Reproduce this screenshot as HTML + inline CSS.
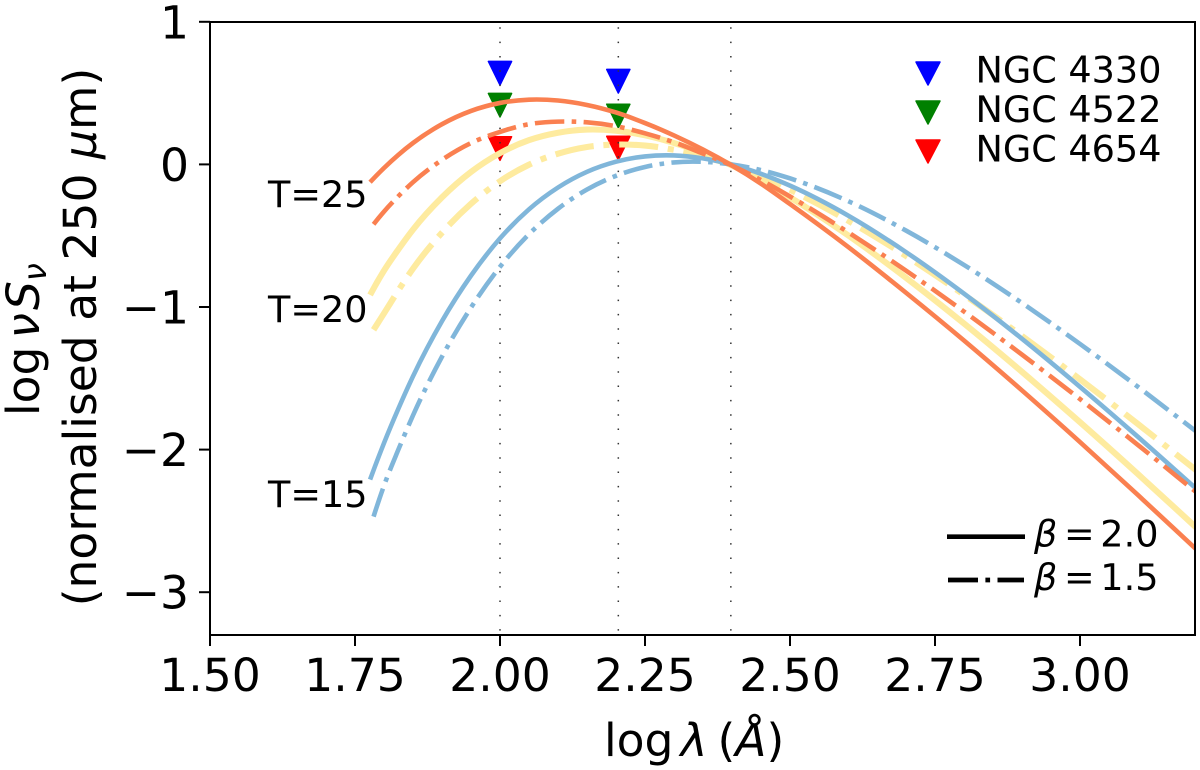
<!DOCTYPE html>
<html lang="en">
<head>
<meta charset="utf-8">
<title>Modified blackbody SEDs</title>
<style>
html,body{margin:0;padding:0;background:#fff;}
svg{display:block;}
text{font-family:"DejaVu Sans","Liberation Sans",sans-serif;fill:#000;}
.i{font-style:italic;}
</style>
</head>
<body>
<svg id="chart" xmlns="http://www.w3.org/2000/svg" width="1200" height="770" viewBox="0 0 1200 770">
  <defs><clipPath id="plot-clip"><rect x="210" y="22" width="985" height="613"/></clipPath></defs>
  <g id="markers"></g>
  <g id="vlines"></g>
  <g id="curves" clip-path="url(#plot-clip)"></g>
  <g id="axes"></g>

  <text x="268" y="207" font-size="36.6">T=25</text>
  <text x="268" y="322" font-size="36.6">T=20</text>
  <text x="268" y="507" font-size="36.6">T=15</text>

  <text x="604" y="756" font-size="45.6">log<tspan class="i" dx="7">λ</tspan><tspan dx="10">(</tspan><tspan class="i">Å</tspan>)</text>
  <text transform="translate(39,416) rotate(-90)" font-size="45.6">log<tspan class="i" dx="8">ν</tspan><tspan class="i" dx="3">S</tspan><tspan class="i" font-size="32" dy="7">ν</tspan></text>
  <text transform="translate(96,337) rotate(-90)" font-size="45.6" text-anchor="middle">(normalised at 250 <tspan class="i">μ</tspan>m)</text>

  <g>
    <polygon points="916,62 940,62 928,85" fill="#0000ff" stroke="#0000ff" stroke-width="1.5" stroke-linejoin="round"/>
    <text x="975.5" y="82.5" font-size="36.6">NGC 4330</text>
    <polygon points="916,101 940,101 928,124" fill="#008000" stroke="#008000" stroke-width="1.5" stroke-linejoin="round"/>
    <text x="975.5" y="122" font-size="36.6">NGC 4522</text>
    <polygon points="916,140 940,140 928,163" fill="#ff0000" stroke="#ff0000" stroke-width="1.5" stroke-linejoin="round"/>
    <text x="975.5" y="161.5" font-size="36.6">NGC 4654</text>
  </g>

  <g>
    <line x1="947" y1="536.7" x2="1025" y2="536.7" stroke="#000" stroke-width="4.7"/>
    <text y="546.7" font-size="36.6"><tspan class="i" x="1034">β</tspan><tspan x="1064">=</tspan><tspan x="1100.3">2.0</tspan></text>
    <line x1="948" y1="580" x2="1024" y2="580" stroke="#000" stroke-width="4.7" stroke-dasharray="30 7.4 4.7 7.4"/>
    <text y="590" font-size="36.6"><tspan class="i" x="1034">β</tspan><tspan x="1064">=</tspan><tspan x="1100.3">1.5</tspan></text>
  </g>
</svg>
<script>
// Wavelength grid (log lambda) and curve values
const logLambda = [1.80,1.825,1.85,1.90,1.95,2.00,2.05,2.10,2.15,2.20,2.25,2.30,2.35,2.40,2.45,2.50,2.60,2.70,2.80,2.90,3.00,3.10,3.20];
const startSolid = 1.776;
const startDash = 1.782;

const t25b20 = [-0.125,-0.025,0.068,0.150,0.282,0.375,0.431,0.454,0.448,0.417,0.364,0.290,0.203,0.104,-0.008,-0.135,-0.278,-0.578,-0.900,-1.235,-1.585,-1.947,-2.319,-2.698];
const t25b15 = [-0.420,-0.331,-0.222,-0.125,0.032,0.150,0.228,0.282,0.300,0.295,0.268,0.218,0.155,0.076,-0.008,-0.110,-0.225,-0.475,-0.745,-1.032,-1.334,-1.646,-1.968,-2.297];
const t20b20 = [-0.915,-0.745,-0.595,-0.457,-0.231,-0.053,0.079,0.170,0.222,0.244,0.236,0.204,0.150,0.078,-0.008,-0.114,-0.231,-0.497,-0.795,-1.116,-1.455,-1.808,-2.172,-2.545];
const t20b15 = [-1.160,-1.045,-0.882,-0.731,-0.479,-0.276,-0.118,-0.002,0.075,0.122,0.139,0.132,0.102,0.056,-0.006,-0.086,-0.178,-0.394,-0.642,-0.914,-1.203,-1.507,-1.821,-2.144];
const t15b20 = [-2.210,-1.954,-1.711,-1.486,-1.099,-0.780,-0.519,-0.315,-0.162,-0.052,0.019,0.056,0.063,0.042,-0.002,-0.066,-0.149,-0.358,-0.615,-0.906,-1.223,-1.560,-1.911,-2.273];
const t15b15 = [-2.470,-2.253,-1.998,-1.760,-1.348,-1.004,-0.718,-0.489,-0.311,-0.176,-0.080,-0.018,0.014,0.018,-0.001,-0.040,-0.098,-0.257,-0.464,-0.705,-0.972,-1.259,-1.560,-1.872];

// Upper limits per galaxy at the two observed bands
const limitBands = [2.0,2.204];
const ngc4330 = [0.640,0.584];
const ngc4522 = [0.416,0.340];
const ngc4654 = [0.112,0.115];

const refLines = [2.0,2.204,2.398];
const xTicks = [1.5,1.75,2.0,2.25,2.5,2.75,3.0];
const xTickLabels = ['1.50','1.75','2.00','2.25','2.50','2.75','3.00'];
const yTicks = [1,0,-1,-2,-3];
const yTickLabels = ['1','0','\u22121','\u22122','\u22123'];

const xMin = 1.5, xMax = 3.2;
const left = 210, right = 1196, top0 = 164.4, perUnit = 142.6;
const X = v => left + (v - xMin) * (right - left) / (xMax - xMin);
const Y = v => top0 - v * perUnit;

const NS = 'http://www.w3.org/2000/svg';
const mk = (tag, parent) => {
  const n = document.createElementNS(NS, tag);
  document.getElementById(parent).appendChild(n);
  return n;
};

function smooth(pts){
  const n = pts.length;
  const h = [], s = [], m = [];
  for (let i = 0; i < n - 1; i++) {
    h[i] = pts[i + 1][0] - pts[i][0];
    s[i] = (pts[i + 1][1] - pts[i][1]) / h[i];
  }
  m[0] = s[0] + (s[0] - s[1]) * h[0] / (h[0] + h[1]);
  m[n - 1] = s[n - 2];
  for (let i = 1; i < n - 1; i++) {
    m[i] = (h[i] * s[i - 1] + h[i - 1] * s[i]) / (h[i - 1] + h[i]);
  }
  let d = 'M' + pts[0][0].toFixed(2) + ' ' + pts[0][1].toFixed(2);
  for (let i = 0; i < n - 1; i++) {
    d += 'C' + (pts[i][0] + h[i] / 3).toFixed(2) + ' ' + (pts[i][1] + m[i] * h[i] / 3).toFixed(2) + ' ' +
         (pts[i + 1][0] - h[i] / 3).toFixed(2) + ' ' + (pts[i + 1][1] - m[i + 1] * h[i] / 3).toFixed(2) + ' ' +
         pts[i + 1][0].toFixed(2) + ' ' + pts[i + 1][1].toFixed(2);
  }
  return d;
}

function drawCurve(name, values, start, color, lw, dashed){
  const xs = [start].concat(logLambda);
  const pts = values.map((v, i) => [X(xs[i]), Y(v)]);
  const p = mk('path', 'curves');
  
  
  p.setAttribute('d', smooth(pts));
  p.setAttribute('fill', 'none');
  p.setAttribute('stroke', color);
  p.setAttribute('stroke-width', lw);
  if (dashed) p.setAttribute('stroke-dasharray', [6.4 * lw, 1.6 * lw, lw, 1.6 * lw].join(' '));
}

function drawLimits(prefix, values, color){
  values.forEach((v, i) => {
    const cx = X(limitBands[i]), cy = Y(v);
    const t = mk('polygon', 'markers');
    
    
    t.setAttribute('points', (cx - 11.6) + ',' + (cy - 11.7) + ' ' + (cx + 11.6) + ',' + (cy - 11.7) + ' ' + cx + ',' + (cy + 11.9));
    t.setAttribute('fill', color);
    t.setAttribute('stroke', color);
    t.setAttribute('stroke-width', 1.5);
    t.setAttribute('stroke-linejoin', 'round');
  });
}

drawLimits('ngc-4330', ngc4330, '#0000ff');
drawLimits('ngc-4522', ngc4522, '#008000');
drawLimits('ngc-4654', ngc4654, '#ff0000');

refLines.forEach(v => {
  const l = mk('line', 'vlines');
  
  
  l.setAttribute('x1', X(v));
  l.setAttribute('x2', X(v));
  l.setAttribute('y1', 27.3);
  l.setAttribute('y2', 635);
  l.setAttribute('stroke', '#333');
  l.setAttribute('stroke-width', 1.5);
  l.setAttribute('stroke-dasharray', '1.5 12.83');
});

const blue = '#80b6da', yellow = '#feeb9f', orange = '#fa8050';
drawCurve('curve-t20-beta-2', t20b20, startSolid, yellow, 6.1, false);
drawCurve('curve-t20-beta-1-5', t20b15, startDash, yellow, 6.1, true);
drawCurve('curve-t15-beta-2', t15b20, startSolid, blue, 4.6, false);
drawCurve('curve-t15-beta-1-5', t15b15, startDash, blue, 4.6, true);
drawCurve('curve-t25-beta-2', t25b20, startSolid, orange, 4.6, false);
drawCurve('curve-t25-beta-1-5', t25b15, startDash, orange, 4.6, true);

const frame = mk('rect', 'axes');


frame.setAttribute('x', 210);
frame.setAttribute('y', 22);
frame.setAttribute('width', 985);
frame.setAttribute('height', 613);
frame.setAttribute('fill', 'none');
frame.setAttribute('stroke', '#000');
frame.setAttribute('stroke-width', 2);

xTicks.forEach((v, i) => {
  const t = mk('line', 'axes');
  
  
  t.setAttribute('x1', X(v));
  t.setAttribute('x2', X(v));
  t.setAttribute('y1', 635);
  t.setAttribute('y2', 646);
  t.setAttribute('stroke', '#000');
  t.setAttribute('stroke-width', 2);
  const s = mk('text', 'axes');
  
  
  s.setAttribute('x', X(v));
  s.setAttribute('y', 691);
  s.setAttribute('font-size', 45.6);
  s.setAttribute('text-anchor', 'middle');
  s.textContent = xTickLabels[i];
});

yTicks.forEach((v, i) => {
  const t = mk('line', 'axes');
  
  
  t.setAttribute('x1', 199);
  t.setAttribute('x2', 210);
  t.setAttribute('y1', Y(v));
  t.setAttribute('y2', Y(v));
  t.setAttribute('stroke', '#000');
  t.setAttribute('stroke-width', 2);
  const s = mk('text', 'axes');
  
  
  s.setAttribute('x', 189);
  s.setAttribute('y', Y(v) + 16.5);
  s.setAttribute('font-size', 45.6);
  s.setAttribute('text-anchor', 'end');
  s.textContent = yTickLabels[i];
});
</script>
</body>
</html>
